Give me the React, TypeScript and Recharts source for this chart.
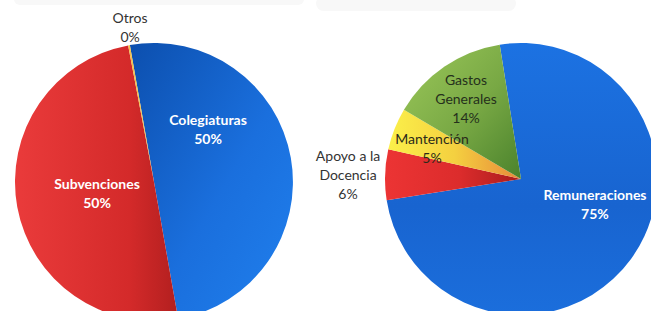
import React from 'react';
import { PieChart, Pie, Cell } from 'recharts';

// Left pie: ingresos
const ingresosCategorias = ['Colegiaturas', 'Subvenciones', 'Otros'];
const ingresosValores = [50, 49.8, 0.2];

// Right pie: gastos
const gastosCategorias = ['Remuneraciones', 'Apoyo a la Docencia', 'Mantención', 'Gastos Generales'];
const gastosValores = [75, 6, 5, 14];

const ingresosData = ingresosCategorias.map((name, i) => ({ name, value: ingresosValores[i] }));
const gastosData = gastosCategorias.map((name, i) => ({ name, value: gastosValores[i] }));

const FILLS: Record<string, string> = {
  Colegiaturas: 'url(#gBlueL)',
  Subvenciones: 'url(#gRedL)',
  Otros: '#f2c14a',
  Remuneraciones: 'url(#gBlueR)',
  'Apoyo a la Docencia': 'url(#gRedR)',
  'Mantención': 'url(#gYellow)',
  'Gastos Generales': 'url(#gGreen)',
};

type Layout = { angle: number; r: number; lines: string[]; color: string; bold: boolean };
const LABEL_LAYOUT: Record<string, Layout> = {
  Colegiaturas: { angle: 42.5, r: 0.527, lines: ['Colegiaturas'], color: '#ffffff', bold: true },
  Subvenciones: { angle: 194.3, r: 0.423, lines: ['Subvenciones'], color: '#ffffff', bold: true },
  Otros: { angle: 99, r: 1.1, lines: ['Otros'], color: '#333333', bold: false },
  Remuneraciones: { angle: -21.1, r: 0.583, lines: ['Remuneraciones'], color: '#ffffff', bold: true },
  'Apoyo a la Docencia': { angle: 179.8, r: 1.272, lines: ['Apoyo a la', 'Docencia'], color: '#333333', bold: false },
  'Mantención': { angle: 162.8, r: 0.685, lines: ['Mantención'], color: '#2a2a1a', bold: false },
  'Gastos Generales': { angle: 125.7, r: 0.693, lines: ['Gastos', 'Generales'], color: '#25301c', bold: false },
};

const RAD = Math.PI / 180;
const LINE_H = 19;
const BASELINE_SHIFT = -4;

const renderLabel = (props: any) => {
  const { cx, cy, outerRadius, name, percent } = props;
  const lay = LABEL_LAYOUT[name];
  if (!lay) return null;
  const x = cx + outerRadius * lay.r * Math.cos(lay.angle * RAD);
  const y = cy - outerRadius * lay.r * Math.sin(lay.angle * RAD) + BASELINE_SHIFT;
  const lines = [...lay.lines, `${Math.round(percent * 100)}%`];
  const y0 = y - ((lines.length - 1) * LINE_H) / 2;
  return (
    <text
      x={x}
      y={y0}
      fill={lay.color}
      textAnchor="middle"
      dominantBaseline="central"
      fontFamily="Lato, 'Open Sans', sans-serif"
      fontSize={14}
      fontWeight={lay.bold ? 700 : 400}
    >
      {lines.map((l, i) => (
        <tspan key={i} x={x} dy={i === 0 ? 0 : LINE_H}>
          {l}
        </tspan>
      ))}
    </text>
  );
};

export default function App() {
  return (
    <div style={{ position: 'absolute', left: 0, top: 0, width: 651, height: 311, background: '#ffffff', overflow: 'hidden' }}>
      <div style={{ position: 'absolute', left: 14, top: -7, width: 290, height: 12, borderRadius: 8, background: '#f8f8f8' }} />
      <div style={{ position: 'absolute', left: 316, top: -4, width: 200, height: 15, borderRadius: 8, background: '#f8f8f8' }} />
      <div style={{ position: 'absolute', left: 0, top: 0 }}>
        <PieChart width={651} height={311}>
          <defs>
            <linearGradient id="gBlueL" x1="0" y1="0" x2="1" y2="1">
              <stop offset="0%" stopColor="#0c4fae" />
              <stop offset="55%" stopColor="#1a6fdd" />
              <stop offset="100%" stopColor="#2080ee" />
            </linearGradient>
            <linearGradient id="gRedL" x1="0" y1="0" x2="1" y2="0">
              <stop offset="0%" stopColor="#ea3b3b" />
              <stop offset="70%" stopColor="#d42a2a" />
              <stop offset="100%" stopColor="#b21f1f" />
            </linearGradient>
            <linearGradient id="gBlueR" x1="0" y1="0" x2="0" y2="1">
              <stop offset="0%" stopColor="#1c72e2" />
              <stop offset="60%" stopColor="#1864d0" />
              <stop offset="100%" stopColor="#1b6edc" />
            </linearGradient>
            <linearGradient id="gRedR" x1="0" y1="0" x2="1" y2="0">
              <stop offset="0%" stopColor="#ec3434" />
              <stop offset="55%" stopColor="#dc2c2c" />
              <stop offset="100%" stopColor="#a81c1c" />
            </linearGradient>
            <linearGradient id="gYellow" x1="0" y1="0" x2="1" y2="0">
              <stop offset="0%" stopColor="#fbf04a" />
              <stop offset="50%" stopColor="#f4d040" />
              <stop offset="100%" stopColor="#e8883a" />
            </linearGradient>
            <linearGradient id="gGreen" x1="0" y1="0" x2="1" y2="1">
              <stop offset="0%" stopColor="#9cc85a" />
              <stop offset="55%" stopColor="#78a844" />
              <stop offset="100%" stopColor="#4a822c" />
            </linearGradient>
          </defs>
          <Pie
            data={ingresosData}
            dataKey="value"
            nameKey="name"
            cx={149}
            cy={177}
            outerRadius={139}
            startAngle={100}
            endAngle={-260}
            stroke="none"
            label={renderLabel}
            labelLine={false}
            isAnimationActive={false}
          >
            {ingresosData.map((d) => (
              <Cell key={d.name} fill={FILLS[d.name]} />
            ))}
          </Pie>
          <Pie
            data={gastosData}
            dataKey="value"
            nameKey="name"
            cx={516}
            cy={174}
            outerRadius={136}
            startAngle={99}
            endAngle={-261}
            stroke="none"
            label={renderLabel}
            labelLine={false}
            isAnimationActive={false}
          >
            {gastosData.map((d) => (
              <Cell key={d.name} fill={FILLS[d.name]} />
            ))}
          </Pie>
        </PieChart>
      </div>
    </div>
  );
}
